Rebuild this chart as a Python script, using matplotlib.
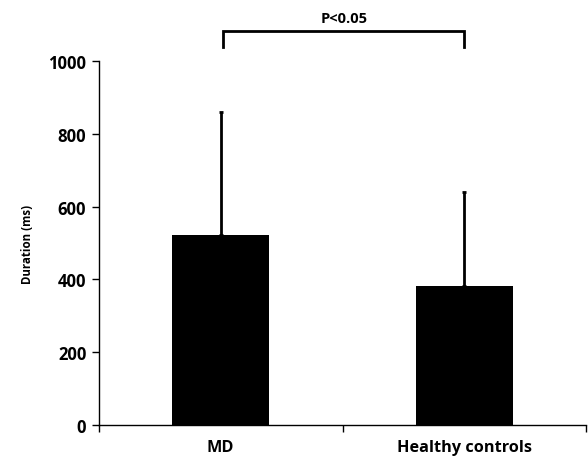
import matplotlib
matplotlib.use("Agg")
import matplotlib.pyplot as plt
import numpy as np

# data
groups = ['MD', 'Healthy controls']
means = [522, 382]
sds = [339, 259]
yticks = [0, 200, 400, 600, 800, 1000]
p_text = 'P<0.05'

plt.rcParams['font.family'] = ['Open Sans', 'DejaVu Sans']
plt.rcParams['font.weight'] = 'bold'

fig = plt.figure(figsize=(5.88, 4.6), dpi=100)
ax = fig.add_axes([0.168, 0.074, 0.829, 0.7906])

x = np.arange(len(groups))
ax.bar(x, means, width=0.4, color='black', zorder=2)
ax.errorbar(x, means, yerr=[np.zeros(len(sds)), sds], fmt='none',
            ecolor='black', elinewidth=2, capsize=1.5, capthick=2, zorder=3)

ax.set_xlim(-0.5, 1.5)
ax.set_ylim(0, 1000)
ax.set_yticks(yticks)
ax.set_yticklabels([str(v) for v in yticks], fontsize=12, fontweight='bold')

# boundaries as major ticks, names as minor ticks
ax.set_xticks([-0.5, 0.5, 1.5])
ax.set_xticklabels([])
ax.set_xticks(x, minor=True)
ax.set_xticklabels(groups, minor=True, fontsize=11.7, fontweight='bold')
ax.tick_params(axis='x', which='minor', length=0, pad=10)
ax.tick_params(axis='x', which='major', length=5, width=1)
ax.tick_params(axis='y', length=5, width=1, pad=4)

for s in ['top', 'right']:
    ax.spines[s].set_visible(False)
for s in ['left', 'bottom']:
    ax.spines[s].set_linewidth(1)

ax.set_ylabel('Duration (ms)', fontsize=8.3, fontweight='bold', labelpad=10)

# significance bracket
bx = [0.01, 0.01, 1.0, 1.0]
by = [1040, 1083, 1083, 1040]
ax.plot(bx, by, color='black', lw=2, clip_on=False, solid_joinstyle='miter')
ax.text(0.505, 1100, p_text, ha='center', va='bottom', fontsize=10.5,
        fontweight='bold')

fig.savefig('out.png', dpi=100)
